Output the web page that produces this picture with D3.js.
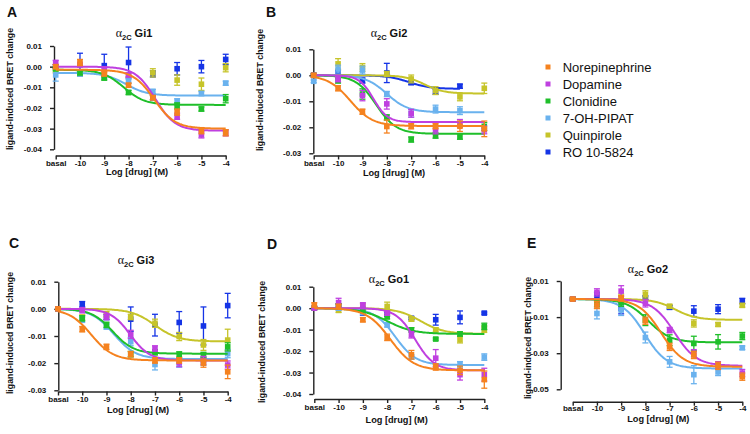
<!DOCTYPE html>
<html>
<head>
<meta charset="utf-8">
<script src="https://cdn.jsdelivr.net/npm/d3@7"></script>
<style>
body { margin: 0; background: #fff; }
svg { display: block; }
text { font-family: "Liberation Sans", Arial, sans-serif; fill: #111; }
</style>
</head>
<body>
<svg id="fig" width="750" height="434"></svg>
<script>
// drugs and colours, in legend order
var drugs	= ["Norepinephrine", "Dopamine", "Clonidine", "7-OH-PIPAT", "Quinpirole", "RO 10-5824"];
var colors	= ["#f5821f", "#bf40e0", "#1fbf2a", "#6ab2ee", "#c6c42a", "#1534e6"];
var doses	= [-11, -10, -9, -8, -7, -6, -5, -4];	// -11 is basal
var doseLabels	= ["basal", "-10", "-9", "-8", "-7", "-6", "-5", "-4"];

// ---- Gi1 ----
var gi1Mean = [
	[0.000, 0.002, -0.0035, -0.009, -0.015, -0.022, -0.031, -0.032],
	[0.002, 0.001, -0.001, -0.004, -0.015, -0.024, -0.033, -0.032],
	[-0.001, -0.003, -0.0055, -0.0125, -0.015, -0.019, -0.0205, -0.0155],
	[-0.004, -0.0035, -0.005, -0.007, -0.012, -0.017, -0.013, -0.008],
	[-0.002, -0.0035, -0.004, -0.004, -0.003, -0.0065, -0.0085, -0.0005],
	[0.000, 0.001, 0.0005, 0.002, -0.0035, -0.001, 0.000, 0.0035]];
var gi1Err = [
	[0.001, 0.0015, 0.001, 0.001, 0.001, 0.0015, 0.0015, 0.0015],
	[0.001, 0.001, 0.001, 0.001, 0.001, 0.0015, 0.0015, 0.0015],
	[0.001, 0.001, 0.001, 0.001, 0.001, 0.0015, 0.001, 0.002],
	[0.003, 0.001, 0.001, 0.001, 0.001, 0.0015, 0.001, 0.001],
	[0.001, 0.001, 0.001, 0.001, 0.002, 0.0025, 0.003, 0.002],
	[0.001, 0.0055, 0.0055, 0.0075, 0.0015, 0.003, 0.003, 0.0025]];
// fit: top, bottom, logEC50, hill slope, last dose
var gi1Fit = [
	[-0.0015, -0.030, -6.95, 1],
	[0.000, -0.031, -6.9, 1.05],
	[-0.0015, -0.0185, -8.2, 1],
	[-0.003, -0.014, -8.1, 1],
	null, null];

// ---- Gi2 ----
var gi2Mean = [
	[0.000, -0.005, -0.014, -0.0197, -0.0196, -0.0196, -0.0196, -0.0206],
	[0.000, -0.0015, -0.0078, -0.011, -0.0146, -0.021, -0.0185, -0.021],
	[0.000, -0.002, -0.0072, -0.0162, -0.0247, -0.0232, -0.0236, -0.0197],
	[-0.0023, 0.0024, 0.002, -0.0072, -0.0146, -0.013, -0.0136, null],
	[0.000, 0.0044, 0.003, 0.0005, -0.0014, -0.0059, -0.0083, -0.005],
	[0.000, 0.001, -0.002, 0.0009, -0.0028, -0.0063, -0.0042, null]];
var gi2Err = [
	[0.0005, 0.001, 0.001, 0.0025, 0.001, 0.001, 0.002, 0.003],
	[0.0005, 0.001, 0.002, 0.002, 0.0015, 0.0015, 0.0015, 0.0015],
	[0.0005, 0.001, 0.002, 0.001, 0.001, 0.001, 0.001, 0.0015],
	[0.0005, 0.0015, 0.0015, 0.001, 0.0015, 0.0015, 0.0015, 0],
	[0.0005, 0.002, 0.0015, 0.001, 0.0015, 0.0015, 0.0015, 0.002],
	[0.0005, 0.001, 0.001, 0.0037, 0.0008, 0.001, 0.0008, 0]];
var gi2Fit = [
	[0, -0.0195, -9.5, 0.95],
	[0, -0.018, -8.55, 1.5],
	[0, -0.0225, -8.44, 1.05],
	[0, -0.0142, -8.0, 1],
	[0, -0.007, -6.45, 1.1],
	[0, -0.0052, -7.1, 1, -5]];

// ---- Gi3 ----
var gi3Mean = [
	[0, -0.0075, -0.014, -0.0167, -0.019, -0.019, -0.020, -0.0232],
	[0, -0.0005, -0.003, -0.0094, -0.0146, -0.0198, -0.019, -0.0207],
	[0, -0.0035, -0.0059, -0.0167, -0.016, -0.0168, -0.017, -0.014],
	[0, -0.004, -0.0065, -0.0121, -0.0205, -0.020, -0.0193, -0.0165],
	[0, -0.0032, -0.002, -0.003, -0.0053, -0.0102, -0.0133, -0.0115],
	[0, 0.0017, -0.003, -0.0038, -0.006, -0.005, -0.0063, 0.0012]];
var gi3Err = [
	[0.0003, 0.001, 0.001, 0.001, 0.001, 0.001, 0.0015, 0.0025],
	[0.0003, 0.001, 0.001, 0.0015, 0.001, 0.0015, 0.0015, 0.0015],
	[0.0003, 0.001, 0.001, 0.001, 0.001, 0.001, 0.001, 0.0015],
	[0.0003, 0.001, 0.001, 0.0015, 0.002, 0.0015, 0.0015, 0.0015],
	[0.0003, 0.001, 0.001, 0.001, 0.0015, 0.0015, 0.002, 0.004],
	[0.0003, 0.001, 0.001, 0.0045, 0.004, 0.004, 0.007, 0.0045]];
var gi3Fit = [
	[0, -0.019, -9.63, 0.95],
	[0, -0.019, -8.02, 1.08],
	[0, -0.0165, -8.75, 1],
	[0, -0.0185, -8.7, 0.95],
	[0, -0.012, -7.0, 0.9],
	null];

// ---- Go1 ----
var go1Mean = [
	[0.0015, 0.0008, -0.0054, -0.0136, -0.0217, -0.0274, -0.029, -0.0333],
	[0, 0.0026, 0.0015, -0.0023, -0.0124, -0.0233, -0.031, -0.031],
	[0, 0.001, -0.001, -0.004, -0.0101, -0.0144, -0.012, -0.0085],
	[0, 0, -0.002, -0.0078, -0.0228, -0.0271, -0.0264, -0.0228],
	[0, -0.001, 0.0005, 0.0008, -0.0051, -0.0101, -0.0147, -0.0098],
	[0, 0.001, -0.0023, -0.0028, -0.0047, -0.0054, -0.0043, -0.0023]];
var go1Err = [
	[0.001, 0.001, 0.001, 0.0015, 0.002, 0.0015, 0.002, 0.004],
	[0.0005, 0.002, 0.001, 0.001, 0.0015, 0.004, 0.0025, 0.003],
	[0.0005, 0.001, 0.001, 0.001, 0.001, 0.0005, 0.001, 0.0015],
	[0.0005, 0.001, 0.001, 0.001, 0.001, 0.001, 0.0015, 0.0015],
	[0.0005, 0.001, 0.0015, 0.002, 0.001, 0.001, 0.0015, 0.0015],
	[0.0005, 0.001, 0.001, 0.001, 0.0005, 0.0025, 0.003, 0.0005]];
var go1Fit = [
	[0, -0.029, -7.87, 0.9],
	[0, -0.029, -6.85, 1.1],
	[0, -0.012, -8.0, 0.8],
	[0, -0.0265, -7.67, 1],
	[0, -0.012, -6.62, 0.9],
	null];

// ---- Go2 ----
var go2Mean = [
	[0, -0.0033, 0.0004, -0.012, -0.0265, -0.031, -0.037, -0.043],
	[0, 0.0037, 0.0044, -0.0024, -0.0172, -0.030, -0.0367, -0.041],
	[0, -0.002, -0.002, -0.0117, -0.0228, -0.0246, -0.0237, -0.0205],
	[0, -0.008, -0.0061, -0.0213, -0.0348, -0.0419, -0.0404, -0.027],
	[0, -0.003, 0.0007, 0.0026, -0.004, -0.0135, -0.0141, -0.0035],
	[0, 0.0018, -0.0052, 0.0007, -0.0046, -0.0067, -0.0056, -0.0011]];
var go2Err = [
	[0.0005, 0.002, 0.0015, 0.002, 0.002, 0.002, 0.002, 0.002],
	[0.0005, 0.002, 0.003, 0.002, 0.0015, 0.002, 0.002, 0.002],
	[0.0005, 0.002, 0.002, 0.003, 0.003, 0.004, 0.004, 0.002],
	[0.0005, 0.003, 0.003, 0.003, 0.003, 0.005, 0.002, 0.001],
	[0.0005, 0.002, 0.002, 0.002, 0.001, 0.002, 0.001, 0.001],
	[0.0005, 0.002, 0.003, 0.001, 0.001, 0.003, 0.0025, 0.0015]];
var go2Fit = [
	[0, -0.0375, -7.35, 0.95],
	[0, -0.037, -6.8, 0.95],
	[0, -0.024, -7.88, 0.95],
	[0, -0.0385, -8.03, 0.95],
	[0, -0.0115, -6.77, 1],
	null];

var yTicks4 = [0.01, 0.00, -0.01, -0.02, -0.03];
var yTicks5 = [0.01, 0.00, -0.01, -0.02, -0.03, -0.04];
var yTicksE = [0.01, -0.01, -0.03, -0.05];

/////////////////////////////////////////////////////////////////////////////////////////////
// panel layout
var panels = [
	{ letter: "A", sub: "Gi1", mean: gi1Mean, err: gi1Err, fit: gi1Fit, yDom: [-0.04, 0.01], yTicks: yTicks5,
	  xr: [55.7, 225.7], yr: [149.3, 46], axX: 54, axY: 155.5, pad: 1,
	  title: [134, 37.3], let: [7, 17], ylab: [13, 89], xlab: [137, 175] },
	{ letter: "B", sub: "Gi2", mean: gi2Mean, err: gi2Err, fit: gi2Fit, yDom: [-0.03, 0.01], yTicks: yTicks4,
	  xr: [313.7, 484.3], yr: [153.3, 49.3], axX: 313.3, axY: 155.5, pad: 1,
	  title: [389, 36.7], let: [266, 17], ylab: [263, 90], xlab: [394, 175.5] },
	{ letter: "C", sub: "Gi3", mean: gi3Mean, err: gi3Err, fit: gi3Fit, yDom: [-0.03, 0.01], yTicks: yTicks4,
	  xr: [58, 227.7], yr: [390.3, 281.7], axX: 58.3, axY: 391.5, pad: 1,
	  title: [136, 264.3], let: [9, 248], ylab: [13, 333], xlab: [138, 412.5] },
	{ letter: "D", sub: "Go1", mean: go1Mean, err: go1Err, fit: go1Fit, yDom: [-0.04, 0.01], yTicks: yTicks5,
	  xr: [314.3, 484.3], yr: [394, 286.7], axX: 313.3, axY: 399, pad: 1,
	  title: [389, 283.3], let: [267, 249], ylab: [265, 342], xlab: [396.7, 423] },
	{ letter: "E", sub: "Go2", mean: go2Mean, err: go2Err, fit: go2Fit, yDom: [-0.05, 0.01], yTicks: yTicksE,
	  xr: [572.7, 742.3], yr: [389.3, 281], axX: 560.7, axY: 401.7, pad: 0,
	  title: [648, 272.7], let: [527, 248], ylab: [531, 338], xlab: [658.3, 422] }
];

var svg = d3.select("#fig");
svg.append("rect").attr("width", 750).attr("height", 434).attr("fill", "#fff");

function hill(f, x) { return f[1] + (f[0] - f[1]) / (1 + Math.pow(10, (x - f[2]) * f[3])); }

function drawPanel(p) {
	var	x	= d3.scaleLinear().domain([-11, -4]).range(p.xr),
		y	= d3.scaleLinear().domain(p.yDom).range(p.yr),
		g	= svg.append("g");

	// axes
	var ya = g.append("g").attr("transform", "translate(" + p.axX + ",0)")
		.call(d3.axisLeft(y).tickValues(p.yTicks).tickFormat(function(d) { return d.toFixed(2); })
			.tickSize(4).tickSizeOuter(0).tickPadding(8));
	var xa = g.append("g").attr("transform", "translate(0," + p.axY + ")")
		.call(d3.axisBottom(x).tickValues(doses).tickFormat(function(d, i) { return doseLabels[i]; })
			.tickSize(4).tickSizeOuter(0).tickPadding(p.pad));
	[ya, xa].forEach(function(a) {
		a.select(".domain").attr("stroke", "#222").attr("stroke-width", 1.4);
		a.selectAll(".tick line").attr("stroke", "#222").attr("stroke-width", 1.4);
		a.selectAll(".tick text").attr("fill", "#111").style("font-size", "8px").style("font-weight", "bold")
			.style("font-family", "'Liberation Sans', Arial, sans-serif");
	});

	// curves + points, last drug drawn first
	var line = d3.line().x(function(d) { return x(d[0]); }).y(function(d) { return y(d[1]); });
	for (var k = drugs.length - 1; k >= 0; k--) {
		var f = p.fit[k], c = colors[k];
		if (f) {
			var pts = d3.range(-11, (f[4] || -4) + 0.001, 0.05).map(function(v) { return [v, hill(f, v)]; });
			g.append("path").attr("d", line(pts)).attr("fill", "none").attr("stroke", c).attr("stroke-width", 2);
		}
		p.mean[k].forEach(function(m, i) {
			if (m === null) return;
			var	e	= p.err[k][i],
				cx	= x(doses[i]);
			if (e > 0) {
				var eg = g.append("g").attr("stroke", c).attr("stroke-width", 1.3);
				eg.append("line").attr("x1", cx).attr("x2", cx).attr("y1", y(m - e)).attr("y2", y(m + e));
				eg.append("line").attr("x1", cx - 3).attr("x2", cx + 3).attr("y1", y(m - e)).attr("y2", y(m - e));
				eg.append("line").attr("x1", cx - 3).attr("x2", cx + 3).attr("y1", y(m + e)).attr("y2", y(m + e));
			}
			g.append("rect").attr("x", cx - 2.8).attr("y", y(m) - 2.8).attr("width", 5.6).attr("height", 5.6).attr("fill", c);
		});
	}

	// texts
	g.append("text").attr("x", p.let[0]).attr("y", p.let[1]).text(p.letter)
		.style("font-size", "14px").style("font-weight", "bold");
	var t = g.append("text").attr("x", p.title[0]).attr("y", p.title[1]).attr("text-anchor", "middle");
	t.append("tspan").text("α").style("font-family", "'Liberation Serif', 'Times New Roman', serif").style("font-size", "12px");
	t.append("tspan").text("2C").attr("dy", 3).style("font-size", "7.5px").style("font-weight", "bold");
	t.append("tspan").text(p.sub).attr("dy", -3).attr("dx", 3).style("font-size", "11px").style("font-weight", "bold");
	g.append("text").attr("transform", "translate(" + p.ylab[0] + "," + p.ylab[1] + ") rotate(-90)")
		.attr("text-anchor", "middle").text("ligand-induced BRET change")
		.style("font-size", "8.8px").style("font-weight", "bold");
	g.append("text").attr("x", p.xlab[0]).attr("y", p.xlab[1]).attr("text-anchor", "middle")
		.text("Log [drug] (M)").style("font-size", "9.2px").style("font-weight", "bold");
}

panels.forEach(drawPanel);

// legend
var lg = svg.append("g").attr("transform", "translate(548,67)");
drugs.forEach(function(d, i) {
	var r = lg.append("g").attr("transform", "translate(0," + (i * 17) + ")");
	r.append("rect").attr("x", -2.5).attr("y", -2.5).attr("width", 5).attr("height", 5).attr("fill", colors[i]);
	r.append("text").attr("x", 14.7).attr("y", 4.5).text(d).style("font-size", "13px");
});
</script>
</body>
</html>
